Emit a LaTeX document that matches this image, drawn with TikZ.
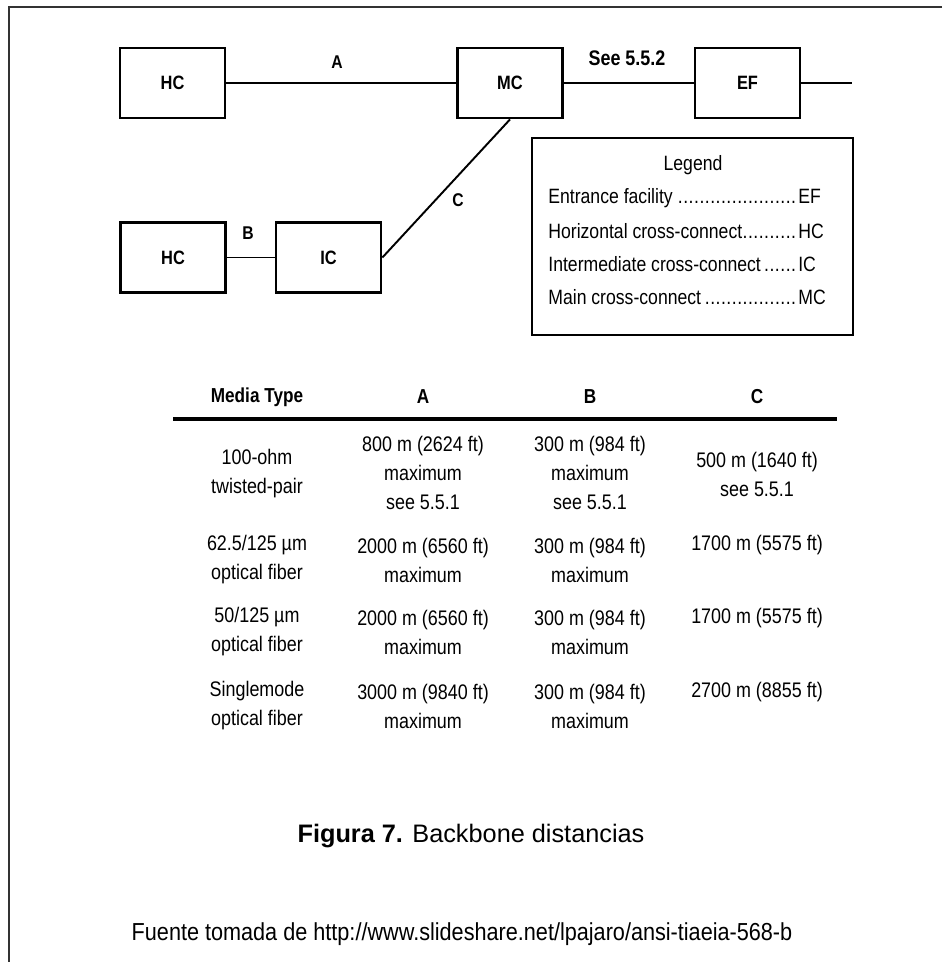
\documentclass[tikz,border=0pt]{standalone}
\usepackage{fontspec}
\setmainfont{Liberation Sans}
\newfontfamily\narrowsf[FakeStretch=0.85]{Liberation Sans}
\newfontfamily\sourcesf[FakeStretch=0.88]{Liberation Sans}
\usetikzlibrary{positioning}

% puntos de relleno de la leyenda
\newcommand{\leaderdots}{\leaders\hbox to 0.26em{\hss.\hss}\hfill}
\newcommand{\legendrow}[2]{\makebox[5cm]{#1\leaderdots}#2}

\begin{document}
\begin{tikzpicture}[x=0.02cm, y=-0.02cm,
    unitbox/.style={draw, line width=1.6pt, minimum width=2.1cm, minimum height=1.4cm,
        inner sep=0pt, font=\narrowsf\fontsize{11}{13}\selectfont\bfseries},
    link/.style={line width=1.1pt},
    linklabel/.style={font=\narrowsf\fontsize{10.5}{12}\selectfont\bfseries},
    legendtext/.style={anchor=west, inner sep=0pt, font=\narrowsf\fontsize{11.8}{14}\selectfont},
    head/.style={font=\narrowsf\fontsize{11.5}{14}\selectfont\bfseries},
    cell/.style={align=center, font=\narrowsf\fontsize{12}{16.5}\selectfont}
]

\useasboundingbox (0,0) rectangle (942,962);

% Marco
\draw[line width=1.1pt, black!80] (942,7) -- (9,7) -- (9,962);

% ============ Diagrama ============
\node[unitbox] (hctop) at (172.5,83) {HC};
\node[unitbox] (mc) at (510,83) {MC};
\node[unitbox] (ef) at (747.5,83) {EF};
\node[unitbox] (hcbot) at (173,257.5) {HC};
\node[unitbox] (ic) at (328.5,257.5) {IC};
\coordinate (efout) at (852,83);

\draw[link] (hctop) -- (mc);
\draw[link] (mc) -- (ef);
\draw[link] (ef) -- (efout);
\draw[link] (hcbot) -- (ic);
\draw[link] (mc.south) -- (ic.east);

% Etiquetas de tramos
\node[linklabel] (labA) at (337,62) {A};
\node[linklabel] (labB) at (248,233) {B};
\node[linklabel] (labC) at (458,200) {C};
\node[linklabel, font=\narrowsf\fontsize{12}{14}\selectfont\bfseries] (see) at (627,58) {See 5.5.2};

% Leyenda
\node[draw, line width=1.1pt, minimum width=6.42cm, minimum height=3.94cm] (legend) at (692.5,236.5) {};
\node[legendtext, anchor=center] (legtitle) at (693,165) {Legend};
\node[legendtext] (leg1) at (548,198) {\legendrow{Entrance facility}{EF}};
\node[legendtext] (leg2) at (548,231) {\legendrow{Horizontal cross-connect}{HC}};
\node[legendtext] (leg3) at (548,264) {\legendrow{Intermediate cross-connect}{IC}};
\node[legendtext] (leg4) at (548,297) {\legendrow{Main cross-connect}{MC}};

% ============ Tabla ============
\node[head] (hmedia) at (257,397) {Media Type};
\node[head] (hA) at (423,397) {A};
\node[head] (hB) at (590,397) {B};
\node[head] (hC) at (757,397) {C};
\coordinate (ruleL) at (173,419);
\coordinate (ruleR) at (837,419);
\draw[line width=2pt] (ruleL) -- (ruleR);

% fila 1
\node[cell] (m1) at (257,474) {100-ohm\\twisted-pair};
\node[cell] (a1) at (423,473) {800 m (2624 ft)\\maximum\\see 5.5.1};
\node[cell] (b1) at (590,473) {300 m (984 ft)\\maximum\\see 5.5.1};
\node[cell] (c1) at (757,474) {500 m (1640 ft)\\see 5.5.1};
% fila 2
\node[cell] (m2) at (257,560) {62.5/125 µm\\optical fiber};
\node[cell] (a2) at (423,560) {2000 m (6560 ft)\\maximum};
\node[cell] (b2) at (590,560) {300 m (984 ft)\\maximum};
\node[cell] (c2) at (757,545) {1700 m (5575 ft)};
% fila 3
\node[cell] (m3) at (257,632) {50/125 µm\\optical fiber};
\node[cell] (a3) at (423,632) {2000 m (6560 ft)\\maximum};
\node[cell] (b3) at (590,632) {300 m (984 ft)\\maximum};
\node[cell] (c3) at (757,618) {1700 m (5575 ft)};
% fila 4
\node[cell] (m4) at (257,706) {Singlemode\\optical fiber};
\node[cell] (a4) at (423,706) {3000 m (9840 ft)\\maximum};
\node[cell] (b4) at (590,706) {300 m (984 ft)\\maximum};
\node[cell] (c4) at (757,692) {2700 m (8855 ft)};

% ============ Pie ============
\node[font=\fontsize{14.4}{18}\selectfont] (fig) at (471,836) {\textbf{Figura 7.} Backbone distancias};
\node[font=\sourcesf\fontsize{14}{18}\selectfont] (src) at (462,934) {Fuente tomada de http://www.slideshare.net/lpajaro/ansi-tiaeia-568-b};

\end{tikzpicture}
\end{document}
